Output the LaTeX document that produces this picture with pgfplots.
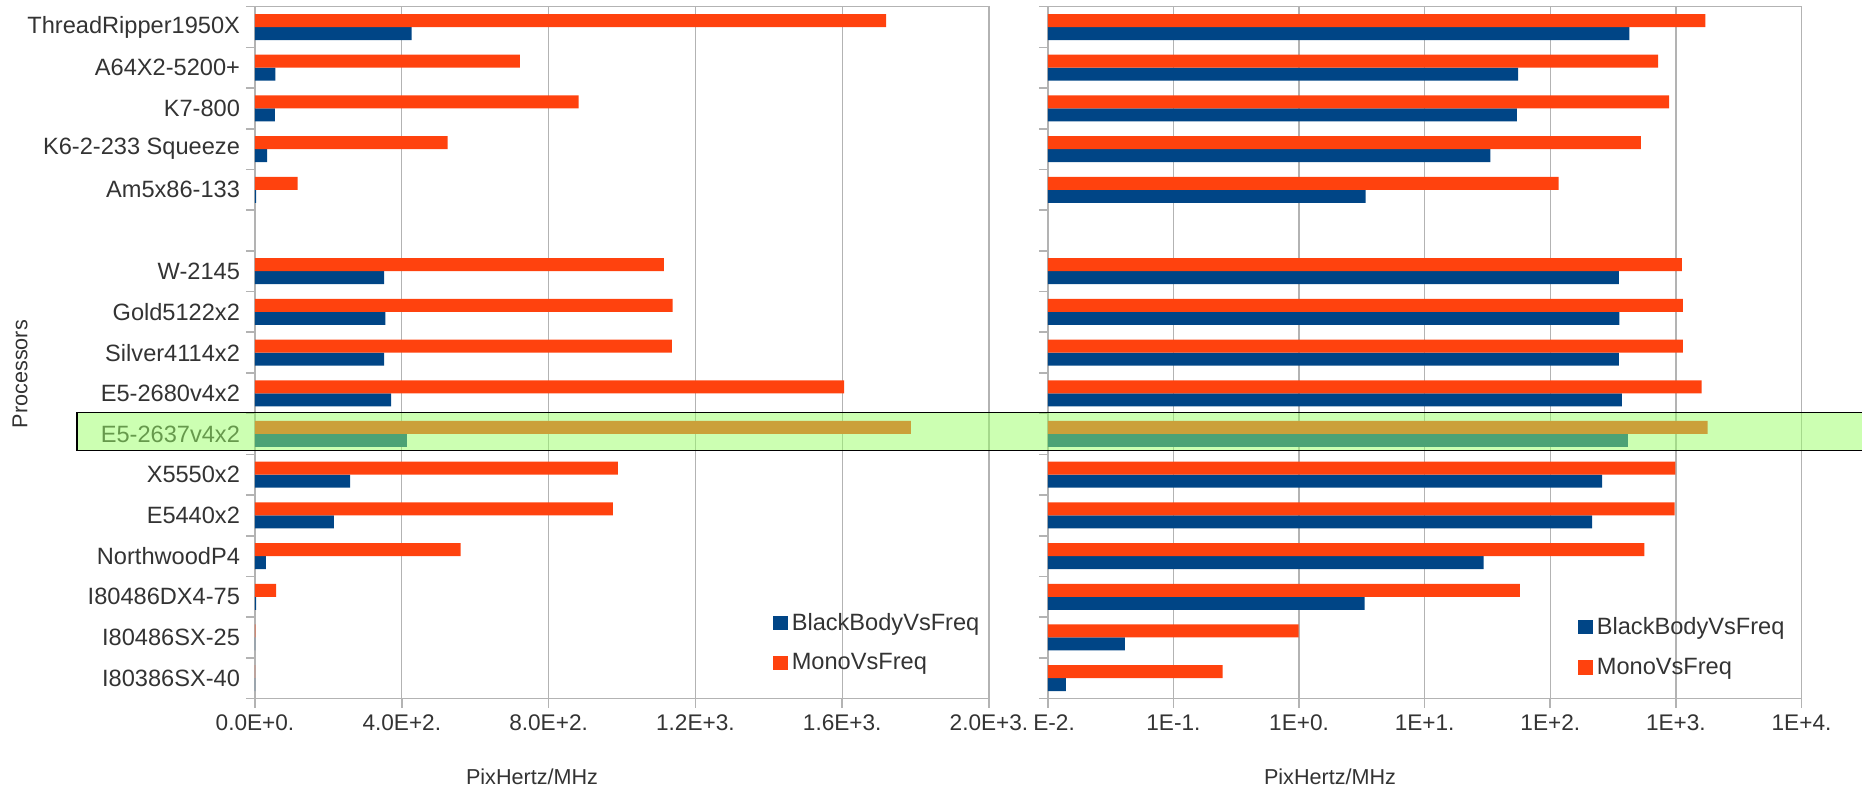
\documentclass[border=0pt]{standalone}
\usepackage{pgfplots}
\pgfplotsset{compat=1.18}
\usepackage{fontspec}
\setmainfont{Liberation Sans}
\definecolor{cblue}{HTML}{004586}
\definecolor{corange}{HTML}{FF420E}
\definecolor{hlgreen}{HTML}{99FF66}
\definecolor{axgray}{HTML}{B3B3B3}
\definecolor{txt}{HTML}{333333}

\pgfplotstableread{
y  blue    orange
16 427     1720
15 55.5    722
14 54.1    882
13 33.3    525
12 3.39    116.4
10 352     1114
9  355     1138
8  352     1136
7  371     1605
6  414     1787
5  259     989
4  215     975
3  29.5    560
2  3.32    57.4
1  0.041   0.99
0  0.0139  0.246
}\datatable

\pgfplotsset{
  common/.style={
    scale only axis,
    height=345.9pt,
    xbar,
    bar width=6.5pt,
    ymin=-0.5, ymax=16.5,
    ytick={-0.5,0.5,...,16.5},
    yticklabels={},
    tick align=outside,
    xtick pos=bottom,
    ytick pos=left,
    major tick length=4.5pt,
    tick style={axgray, line width=0.8pt},
    axis line style={axgray, line width=0.8pt},
    xmajorgrids,
    major grid style={axgray, line width=0.6pt},
    ymajorgrids=false,
    xticklabel style={font=\fontsize{11.3}{13}\selectfont, text=txt},
    xlabel style={font=\fontsize{10.8}{13}\selectfont, text=txt, anchor=center},
    legend style={draw=none, fill=none, font=\fontsize{11.8}{13}\selectfont, text=txt,
      row sep=6.3pt, inner sep=0pt, anchor=north west, cells={anchor=west}},
    legend image code/.code={\fill[##1] (0pt,-3.6pt) rectangle (7.2pt,3.6pt);},
  },
}

\begin{document}
\begin{tikzpicture}
\useasboundingbox (0,0) rectangle (931pt,394pt);
% Left (linear) panel
\begin{axis}[common,
  at={(127.5pt,44.75pt)}, anchor=south west,
  width=367pt,
  xmin=0, xmax=2000,
  xtick={0,400,800,1200,1600,2000},
  xticklabels={0.0E+0.,4.0E+2.,8.0E+2.,1.2E+3.,1.6E+3.,2.0E+3.},
  extra y ticks={0,...,16},
  extra y tick labels={I80386SX-40,I80486SX-25,I80486DX4-75,NorthwoodP4,E5440x2,X5550x2,E5-2637v4x2,E5-2680v4x2,Silver4114x2,Gold5122x2,W-2145,{},Am5x86-133,K6-2-233 Squeeze,K7-800,A64X2-5200+,ThreadRipper1950X},
  extra y tick style={major tick length=0pt, yticklabel style={font=\fontsize{11.8}{13}\selectfont, text=txt, xshift=-4pt}},
  xlabel={PixHertz/MHz},
  xlabel style={at={(axis description cs:0.3774,-0.113)}},
  ylabel={Processors},
  ylabel style={font=\fontsize{10.8}{13}\selectfont, text=txt, at={(axis description cs:-0.3202,0.469)}, anchor=center},
  legend style={at={(axis description cs:0.7057,0.13)}},
]
\addplot[fill=cblue, draw=none, bar shift=-3.25pt] table[x=blue, y=y] {\datatable};
\addlegendentry{BlackBodyVsFreq}
\addplot[fill=corange, draw=none, bar shift=3.25pt] table[x=orange, y=y] {\datatable};
\addlegendentry{MonoVsFreq}
\end{axis}
% Right (log) panel
\begin{axis}[common,
  at={(523.9pt,44.75pt)}, anchor=south west,
  width=376.85pt,
  xmode=log,
  log origin x=infty,
  xmin=0.01, xmax=10000,
  xminorticks=false,
  xtick={0.01,0.1,1,10,100,1000,10000},
  xticklabels={\phantom{1}E-2.,1E-1.,1E+0.,1E+1.,1E+2.,1E+3.,1E+4.},
  xlabel={PixHertz/MHz},
  xlabel style={at={(axis description cs:0.3744,-0.113)}},
  legend style={at={(axis description cs:0.7035,0.124)}},
]
\addplot[fill=cblue, draw=none, bar shift=-3.25pt] table[x=blue, y=y] {\datatable};
\addlegendentry{BlackBodyVsFreq}
\addplot[fill=corange, draw=none, bar shift=3.25pt] table[x=orange, y=y] {\datatable};
\addlegendentry{MonoVsFreq}
\end{axis}
% highlight of the E5-2637v4x2 row
\fill[hlgreen, fill opacity=0.5] (38.5pt,168.65pt) rectangle (935pt,187.85pt);
\draw[black, line width=0.7pt] (935pt,187.85pt) -- (38.5pt,187.85pt) -- (38.5pt,168.65pt) -- (935pt,168.65pt);
\end{tikzpicture}
\end{document}
